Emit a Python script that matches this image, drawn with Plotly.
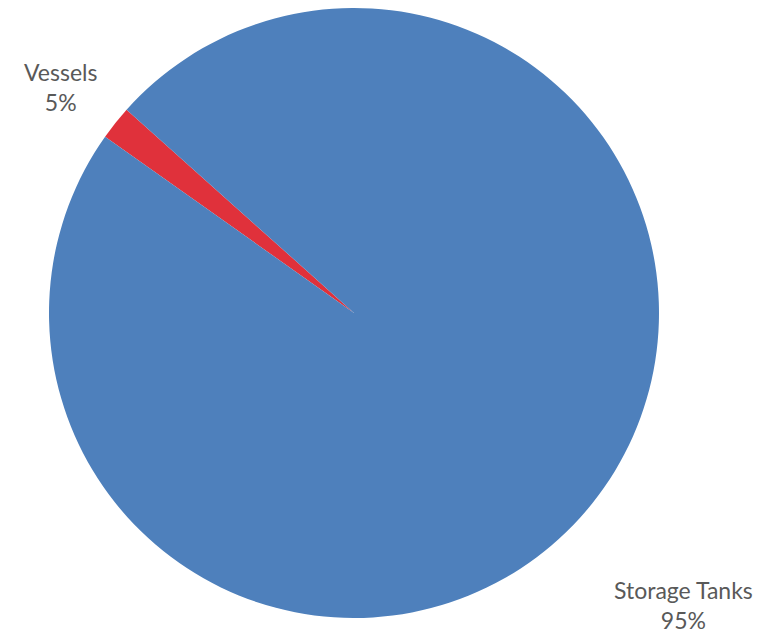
import plotly.graph_objects as go

categories = ["Vessels", "Storage Tanks"]
# slice sizes as drawn in the picture (the red wedge is visibly ~1.8% of the circle)
values = [1.8, 98.2]
label_pct = ["5%", "95%"]
colors = ["#E0313B", "#4E80BC"]

W, H = 771, 633
off = 8  # page body margin of the browser
cx, cy, r = 354 - off, 313 - off, 305

fig = go.Figure(go.Pie(
    labels=categories,
    values=values,
    sort=False,
    direction="clockwise",
    rotation=-54.7,
    textinfo="none",
    hoverinfo="label+percent",
    marker=dict(colors=colors, line=dict(width=0)),
    domain=dict(x=[(cx - r) / W, (cx + r) / W],
                y=[max(0, 1 - (cy + r) / H), min(1, 1 - (cy - r) / H)]),
    showlegend=False,
))

label_pos = [(60 - off, 87 - off), (683 - off, 605 - off)]
for name, pct, (px, py) in zip(categories, label_pct, label_pos):
    fig.add_annotation(
        x=px / W, y=1 - py / H, xref="paper", yref="paper",
        text=f"{name}<br>{pct}", showarrow=False,
        font=dict(family="Lato, Open Sans, sans-serif", size=23, color="#595959"),
        align="center", xanchor="center", yanchor="middle",
    )

fig.update_layout(
    width=W, height=H,
    margin=dict(l=0, r=0, t=0, b=0),
    paper_bgcolor="white", plot_bgcolor="white",
)
fig.write_html("out.html")
